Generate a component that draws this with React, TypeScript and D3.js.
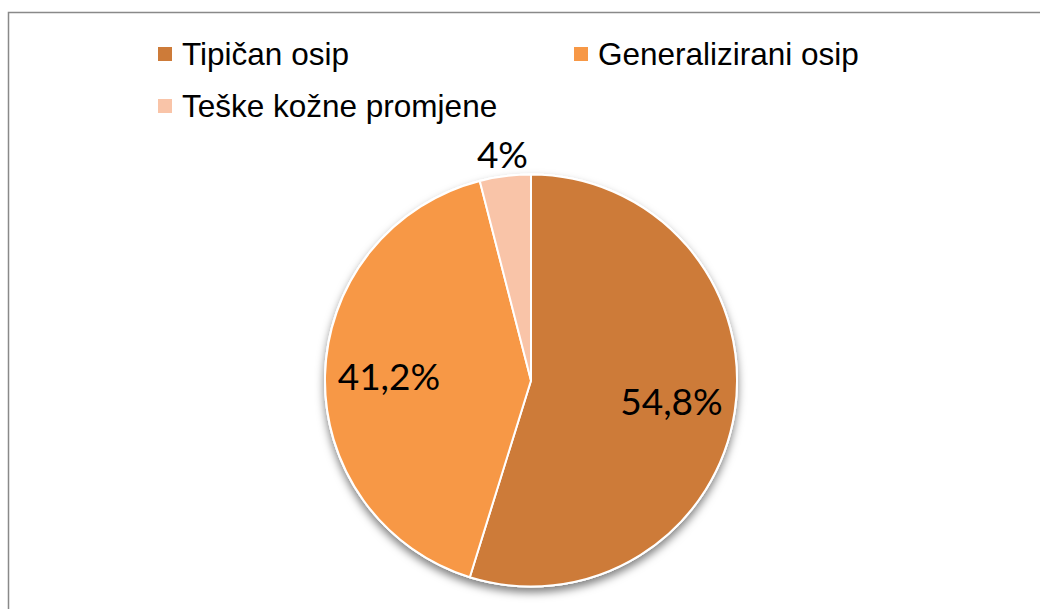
import React from "react";
import * as d3 from "d3";

// DATA
const categories = ["Tipičan osip", "Generalizirani osip", "Teške kožne promjene"];
const values = [54.8, 41.2, 4];
const valueLabels = ["54,8%", "41,2%", "4%"];
const colors = ["#CD7B39", "#F79846", "#F9C4A8"];

const W = 1040;
const H = 609;

export default function App() {
  // PIE GEOMETRY
  const cx = 531;
  const cy = 380.5;
  const r = 206;

  const pie = d3
    .pie<number>()
    .sort(null)
    .value((d) => d);
  const arcs = pie(values);

  const arc = d3.arc<d3.PieArcDatum<number>>().innerRadius(0).outerRadius(r);
  const insideArc = d3
    .arc<d3.PieArcDatum<number>>()
    .innerRadius(r * 0.69)
    .outerRadius(r * 0.69);
  const outsideArc = d3
    .arc<d3.PieArcDatum<number>>()
    .innerRadius(r + 22)
    .outerRadius(r + 22);

  // LEGEND LAYOUT (2 columns)
  const legendX = d3.scaleOrdinal<number, number>().domain([0, 1]).range([158, 574]);
  const legendY = d3.scaleOrdinal<number, number>().domain([0, 1]).range([65, 117]);

  return (
    <svg
      width={W}
      height={H}
      style={{ position: "absolute", left: 0, top: 0, background: "#fff" }}
    >
      <defs>
        <filter id="shadow" x="-20%" y="-20%" width="140%" height="140%">
          <feDropShadow dx="0" dy="5" stdDeviation="4" floodColor="#000" floodOpacity="0.5" />
        </filter>
      </defs>

      {/* BORDER */}
      <rect x={8.5} y={12.5} width={W} height={H} fill="none" stroke="#898989" strokeWidth={1.5} />

      {/* LEGEND */}
      {categories.map((c, i) => {
        const col = i % 2;
        const row = Math.floor(i / 2);
        const x = legendX(col);
        const y = legendY(row);
        return (
          <g key={c}>
            <rect x={x} y={y - 18} width={14} height={14} fill={colors[i]} />
            <text
              x={x + 24}
              y={y}
              fontFamily="'Liberation Sans', Arial, sans-serif"
              fontSize={31.5}
              fill="#000"
            >
              {c}
            </text>
          </g>
        );
      })}

      {/* PIE */}
      <g transform={`translate(${cx},${cy})`}>
        <circle r={r + 1} fill="#fff" filter="url(#shadow)" />
        {arcs.map((a, i) => (
          <path key={i} d={arc(a) || ""} fill={colors[i]} stroke="#fff" strokeWidth={2} />
        ))}
        {arcs.map((a, i) => {
          const inside = a.endAngle - a.startAngle > 0.5;
          const [lx, ly] = inside ? insideArc.centroid(a) : outsideArc.centroid(a);
          return (
            <text
              key={"l" + i}
              x={lx}
              y={ly}
              dy="0.36em"
              textAnchor="middle"
              fontFamily="Lato, 'Open Sans', sans-serif"
              fontSize={37}
              fill="#000"
            >
              {valueLabels[i]}
            </text>
          );
        })}
      </g>
    </svg>
  );
}
